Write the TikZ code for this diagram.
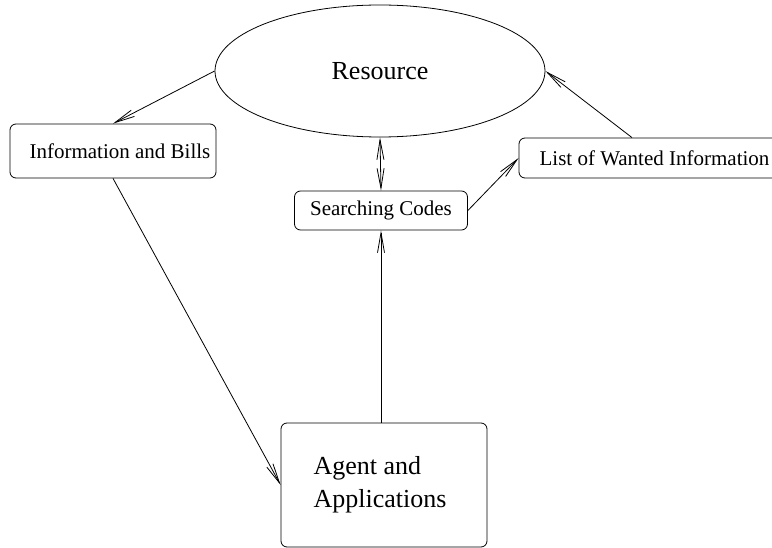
\documentclass[tikz,border=0pt]{standalone}
\usepackage{fontspec}
\setmainfont{Liberation Serif}
\usetikzlibrary{shapes.geometric,arrows.meta}

\tikzset{
  box/.style={draw, rounded corners=6pt, line width=0.8pt, inner sep=0pt},
  smalltext/.style={font=\fontsize{21}{25}\selectfont},
  bigtext/.style={font=\fontsize{26}{33}\selectfont},
  flow/.style={line width=0.8pt, -{Straight Barb[length=20pt,width=7pt,line width=0.8pt]}},
  bothflow/.style={line width=0.8pt, {Straight Barb[length=20pt,width=7pt,line width=0.8pt]}-{Straight Barb[length=20pt,width=7pt,line width=0.8pt]}}
}

\begin{document}
\begin{tikzpicture}[x=1pt,y=-1pt]
  \useasboundingbox (0,0) rectangle (772,548);

  % central store
  \node[draw, ellipse, line width=0.8pt, minimum width=330pt, minimum height=132pt,
        inner sep=0pt, bigtext] (res) at (380,71) {Resource};

  % boxes
  \node[box, smalltext, minimum width=206pt, minimum height=54pt]
        (info) at (113,151) {\hspace*{14pt}Information and Bills};
  \node[box, smalltext, minimum width=173pt, minimum height=39pt]
        (search) at (381,210.5) {Searching Codes};
  \node[box, smalltext, minimum width=271pt, minimum height=40pt]
        (list) at (654.5,158) {List of Wanted Information};
  \node[box, bigtext, align=left, minimum width=206pt, minimum height=124pt]
        (agent) at (384,485) {Agent and\\Applications\hspace*{8pt}};

  % connectors
  \draw[flow] (res.west) -- (info.north);
  \draw[flow] (info.south) -- (agent.west);
  \draw[flow] (agent.north -| search.south) -- (search.south);
  \draw[bothflow] (res.south) -- (search.north);
  \draw[flow] (search.east) -- (list.west);
  \draw[flow] ([xshift=-22.5pt]list.north) -- (res.east);
\end{tikzpicture}
\end{document}
